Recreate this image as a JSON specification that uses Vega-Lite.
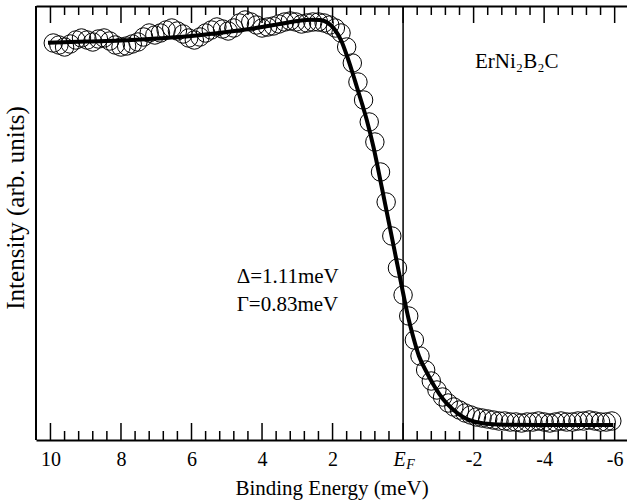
{
  "$schema": "https://vega.github.io/schema/vega-lite/v6.json",
  "width": 591,
  "height": 434,
  "autosize": "none",
  "padding": {"left": 36, "top": 6, "right": 0, "bottom": 64},
  "background": "white",
  "config": {"view": {"stroke": null}, "axis": {"grid": false}},
  "datasets": {
    "ef": [{"E": 0}],
    "edge": [{"E": 10.41}],
    "major": [{"E": 10}, {"E": 8}, {"E": 6}, {"E": 4}, {"E": 2}, {"E": 0}, {"E": -2}, {"E": -4}, {"E": -6}],
    "minor": [
      {"E": 9.6}, {"E": 9.2}, {"E": 8.8}, {"E": 8.4}, {"E": 7.6}, {"E": 7.2}, {"E": 6.8}, {"E": 6.4},
      {"E": 5.6}, {"E": 5.2}, {"E": 4.8}, {"E": 4.4}, {"E": 3.6}, {"E": 3.2}, {"E": 2.8}, {"E": 2.4},
      {"E": 1.6}, {"E": 1.2}, {"E": 0.8}, {"E": 0.4}, {"E": -0.4}, {"E": -0.8}, {"E": -1.2}, {"E": -1.6},
      {"E": -2.4}, {"E": -2.8}, {"E": -3.2}, {"E": -3.6}, {"E": -4.4}, {"E": -4.8}, {"E": -5.2}, {"E": -5.6}
    ],
    "fit": [
      {"E": 10.07, "I": 397.3}, {"E": 9.0, "I": 398.5}, {"E": 8.0, "I": 399.5}, {"E": 7.0, "I": 401.5},
      {"E": 6.0, "I": 404}, {"E": 5.0, "I": 408}, {"E": 4.0, "I": 413}, {"E": 3.5, "I": 416},
      {"E": 3.0, "I": 419}, {"E": 2.6, "I": 420.3}, {"E": 2.35, "I": 420}, {"E": 2.15, "I": 417.5},
      {"E": 1.95, "I": 411}, {"E": 1.75, "I": 399}, {"E": 1.6, "I": 385}, {"E": 1.45, "I": 369},
      {"E": 1.31, "I": 353}, {"E": 1.17, "I": 337}, {"E": 1.03, "I": 320}, {"E": 0.84, "I": 293},
      {"E": 0.6, "I": 252}, {"E": 0.4, "I": 217}, {"E": 0.2, "I": 182}, {"E": 0.0, "I": 147},
      {"E": -0.15, "I": 122}, {"E": -0.28, "I": 104}, {"E": -0.45, "I": 84}, {"E": -0.68, "I": 67},
      {"E": -0.9, "I": 53}, {"E": -1.13, "I": 41}, {"E": -1.4, "I": 31}, {"E": -1.7, "I": 23},
      {"E": -2.0, "I": 18.5}, {"E": -2.3, "I": 16.5}, {"E": -2.84, "I": 15.3}, {"E": -4.0, "I": 15},
      {"E": -5.96, "I": 15}
    ],
    "pts": [
      {"E": 9.92, "I": 397}, {"E": 9.76, "I": 395}, {"E": 9.6, "I": 393}, {"E": 9.44, "I": 396},
      {"E": 9.28, "I": 400}, {"E": 9.12, "I": 402}, {"E": 8.96, "I": 400}, {"E": 8.8, "I": 398},
      {"E": 8.64, "I": 401}, {"E": 8.48, "I": 402}, {"E": 8.32, "I": 399}, {"E": 8.16, "I": 395},
      {"E": 8.0, "I": 393}, {"E": 7.84, "I": 394}, {"E": 7.68, "I": 396}, {"E": 7.52, "I": 398},
      {"E": 7.36, "I": 403}, {"E": 7.2, "I": 407}, {"E": 7.04, "I": 405}, {"E": 6.88, "I": 407},
      {"E": 6.72, "I": 410}, {"E": 6.56, "I": 412}, {"E": 6.4, "I": 409}, {"E": 6.24, "I": 406},
      {"E": 6.08, "I": 402}, {"E": 5.92, "I": 400}, {"E": 5.76, "I": 403}, {"E": 5.6, "I": 407},
      {"E": 5.44, "I": 410}, {"E": 5.28, "I": 413}, {"E": 5.12, "I": 411}, {"E": 4.96, "I": 409},
      {"E": 4.8, "I": 412}, {"E": 4.64, "I": 417}, {"E": 4.48, "I": 420}, {"E": 4.32, "I": 418},
      {"E": 4.16, "I": 415}, {"E": 4.0, "I": 412}, {"E": 3.84, "I": 413}, {"E": 3.68, "I": 414},
      {"E": 3.52, "I": 416}, {"E": 3.36, "I": 418}, {"E": 3.2, "I": 419}, {"E": 3.04, "I": 418},
      {"E": 2.88, "I": 416}, {"E": 2.72, "I": 417}, {"E": 2.56, "I": 418}, {"E": 2.4, "I": 418},
      {"E": 2.24, "I": 417}, {"E": 2.08, "I": 415}, {"E": 1.92, "I": 412}, {"E": 1.76, "I": 407},
      {"E": 1.6, "I": 393}, {"E": 1.44, "I": 377}, {"E": 1.28, "I": 358}, {"E": 1.12, "I": 340},
      {"E": 0.96, "I": 318}, {"E": 0.8, "I": 298}, {"E": 0.64, "I": 268}, {"E": 0.48, "I": 238},
      {"E": 0.32, "I": 204}, {"E": 0.16, "I": 172}, {"E": 0.0, "I": 145}, {"E": -0.16, "I": 124},
      {"E": -0.32, "I": 100}, {"E": -0.48, "I": 84}, {"E": -0.64, "I": 70}, {"E": -0.8, "I": 59},
      {"E": -0.96, "I": 50}, {"E": -1.12, "I": 43}, {"E": -1.28, "I": 37}, {"E": -1.44, "I": 33},
      {"E": -1.6, "I": 30}, {"E": -1.76, "I": 27}, {"E": -1.92, "I": 25}, {"E": -2.08, "I": 23},
      {"E": -2.24, "I": 22}, {"E": -2.4, "I": 21}, {"E": -2.56, "I": 20}, {"E": -2.72, "I": 19},
      {"E": -2.88, "I": 19}, {"E": -3.04, "I": 18}, {"E": -3.2, "I": 18}, {"E": -3.36, "I": 17},
      {"E": -3.52, "I": 18}, {"E": -3.68, "I": 18}, {"E": -3.84, "I": 19}, {"E": -4.0, "I": 18},
      {"E": -4.16, "I": 17}, {"E": -4.32, "I": 18}, {"E": -4.48, "I": 19}, {"E": -4.64, "I": 18},
      {"E": -4.8, "I": 18}, {"E": -4.96, "I": 19}, {"E": -5.12, "I": 19}, {"E": -5.28, "I": 20},
      {"E": -5.44, "I": 19}, {"E": -5.6, "I": 18}, {"E": -5.76, "I": 18}, {"E": -5.92, "I": 19}
    ],
    "notes": [
      {"E": 4.72, "I": 157, "t": "Δ=1.11meV"},
      {"E": 4.72, "I": 129, "t": "Γ=0.83meV"},
      {"E": -2.04, "I": 371.7, "t": "ErNi₂B₂C"}
    ],
    "sub": [{"E": -0.213, "I": -29, "t": "F"}],
    "ytitle": [{"E": 10.62, "I": 232, "t": "Intensity (arb. units)"}]
  },
  "layer": [
    {
      "data": {"name": "ef"},
      "mark": {"type": "rule", "color": "black", "strokeWidth": 1.5},
      "encoding": {
        "x": {
          "field": "E", "type": "quantitative",
          "scale": {"domain": [-6.35, 10.41], "reverse": true, "nice": false, "zero": false},
          "axis": {
            "orient": "bottom",
            "values": [10, 8, 6, 4, 2, 0, -2, -4, -6],
            "ticks": false,
            "domain": true, "domainColor": "black", "domainWidth": 2,
            "labelFont": "Liberation Serif", "labelFontSize": 20, "labelColor": "black",
            "labelPadding": 9, "labelFlush": false, "labelOverlap": false,
            "labelExpr": "datum.value == 0 ? 'E' : '' + datum.value",
            "labelFontStyle": {"condition": {"test": "datum.value == 0", "value": "italic"}, "value": "normal"},
            "labelOffset": {"condition": {"test": "datum.value == 0", "value": -4}, "value": 0},
            "title": "Binding Energy (meV)", "titleFont": "Liberation Serif", "titleFontSize": 21,
            "titleFontWeight": "normal", "titleColor": "black", "titlePadding": 8
          }
        }
      }
    },
    {
      "data": {"name": "edge"},
      "mark": {"type": "rule", "color": "black", "strokeWidth": 2},
      "encoding": {
        "x": {"field": "E", "type": "quantitative", "axis": null}
      }
    },
    {
      "data": {"name": "major"},
      "mark": {"type": "rule", "color": "black", "strokeWidth": 1.5},
      "encoding": {
        "x": {"field": "E", "type": "quantitative", "axis": null},
        "y": {"datum": 0, "type": "quantitative", "axis": null},
        "y2": {"datum": 17}
      }
    },
    {
      "data": {"name": "major"},
      "mark": {"type": "rule", "color": "black", "strokeWidth": 1.5},
      "encoding": {
        "x": {"field": "E", "type": "quantitative", "axis": null},
        "y": {"datum": 434, "type": "quantitative", "axis": null},
        "y2": {"datum": 417}
      }
    },
    {
      "data": {"name": "minor"},
      "mark": {"type": "rule", "color": "black", "strokeWidth": 1.5},
      "encoding": {
        "x": {"field": "E", "type": "quantitative", "axis": null},
        "y": {"datum": 0, "type": "quantitative", "axis": null},
        "y2": {"datum": 9}
      }
    },
    {
      "data": {"name": "minor"},
      "mark": {"type": "rule", "color": "black", "strokeWidth": 1.5},
      "encoding": {
        "x": {"field": "E", "type": "quantitative", "axis": null},
        "y": {"datum": 434, "type": "quantitative", "axis": null},
        "y2": {"datum": 425}
      }
    },
    {
      "data": {"name": "fit"},
      "mark": {"type": "line", "color": "black", "strokeWidth": 4, "interpolate": "monotone"},
      "encoding": {
        "x": {"field": "E", "type": "quantitative", "axis": null},
        "y": {
          "field": "I", "type": "quantitative",
          "scale": {"domain": [0, 434], "nice": false, "zero": false},
          "axis": null
        }
      }
    },
    {
      "data": {"name": "pts"},
      "mark": {"type": "point", "shape": "circle", "filled": false, "color": "black", "strokeWidth": 1, "size": 340, "opacity": 1},
      "encoding": {
        "x": {"field": "E", "type": "quantitative", "axis": null},
        "y": {"field": "I", "type": "quantitative", "axis": null}
      }
    },
    {
      "data": {"name": "notes"},
      "mark": {"type": "text", "font": "Liberation Serif", "fontSize": 21, "align": "left", "baseline": "alphabetic", "color": "black"},
      "encoding": {
        "x": {"field": "E", "type": "quantitative", "axis": null},
        "y": {"field": "I", "type": "quantitative", "axis": null},
        "text": {"field": "t"}
      }
    },
    {
      "data": {"name": "sub"},
      "mark": {"type": "text", "font": "Liberation Serif", "fontSize": 14, "fontStyle": "italic", "align": "center", "baseline": "alphabetic", "color": "black"},
      "encoding": {
        "x": {
          "field": "E", "type": "quantitative",
          "axis": {
            "orient": "top", "domain": true, "domainColor": "black", "domainWidth": 2,
            "ticks": false, "labels": false, "title": null
          }
        },
        "y": {"field": "I", "type": "quantitative", "axis": null},
        "text": {"field": "t"}
      }
    },
    {
      "data": {"name": "ytitle"},
      "mark": {"type": "text", "font": "Liberation Serif", "fontSize": 25, "angle": 270, "align": "center", "baseline": "bottom", "color": "black"},
      "encoding": {
        "x": {"field": "E", "type": "quantitative", "axis": null},
        "y": {"field": "I", "type": "quantitative", "axis": null},
        "text": {"field": "t"}
      }
    }
  ],
  "resolve": {"axis": {"x": "independent"}}
}
